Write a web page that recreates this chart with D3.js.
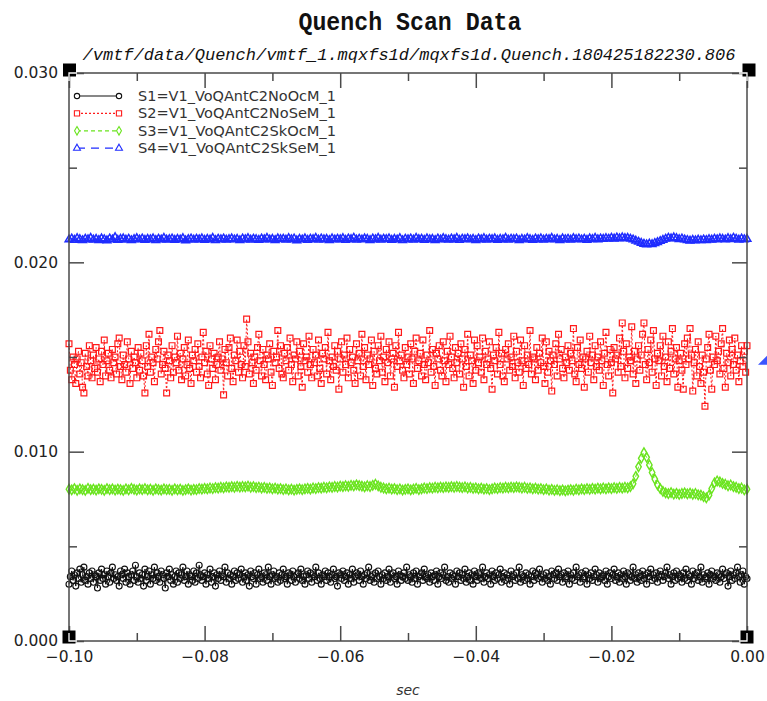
<!DOCTYPE html>
<html>
<head>
<meta charset="utf-8">
<script src="https://cdn.jsdelivr.net/npm/d3@7"></script>
<style>
  html, body { margin: 0; padding: 0; background: #fff; }
  svg { display: block; }
</style>
</head>
<body>
<svg id="chart" width="767" height="701"></svg>
<script>
// Scan window (seconds): each channel's samples are spread evenly across it
const tStart = -0.1;
const tEnd = 0.0;

const seriesNames = [
  "S1=V1_VoQAntC2NoOcM_1",
  "S2=V1_VoQAntC2NoSeM_1",
  "S3=V1_VoQAntC2SkOcM_1",
  "S4=V1_VoQAntC2SkSeM_1"
];

// Channel readings, in thousandths of a volt
const s1 = [
  3.0,3.4,3.7,3.2,3.5,2.9,3.6,3.3,3.8,3.1, 3.5,3.9,3.2,3.4,3.0,3.6,3.3,3.7,3.1,3.5,
  3.4,2.8,3.6,3.2,3.8,3.3,3.5,3.0,3.7,3.4, 3.1,3.6,3.9,3.3,3.5,3.2,3.4,2.9,3.7,3.5,
  3.3,3.8,3.1,3.6,3.4,3.0,3.5,3.7,3.2,4.0, 3.4,3.1,3.6,3.3,3.5,2.9,3.8,3.2,3.4,3.7,
  3.0,3.5,3.3,3.9,3.2,3.6,3.4,3.1,3.7,3.5, 3.3,2.8,3.6,3.4,3.8,3.2,3.5,3.0,3.4,3.7,
  3.1,3.6,3.3,3.5,3.9,3.2,3.4,3.7,3.0,3.5, 3.4,3.2,3.7,3.1,3.6,3.3,4.0,3.5,3.2,3.4,
  3.6,3.0,3.5,3.3,3.8,3.1,3.4,3.6,2.9,3.5, 3.3,3.7,3.2,3.5,3.4,3.9,3.1,3.6,3.3,3.5,
  3.0,3.4,3.7,3.2,3.6,3.3,3.5,3.8,3.1,3.4, 3.6,3.2,3.5,2.9,3.7,3.4,3.3,3.6,3.0,3.5,
  3.8,3.3,3.4,3.1,3.6,3.5,3.2,3.9,3.4,3.0, 3.5,3.7,3.3,3.4,3.1,3.6,3.2,3.5,3.8,3.3,
  3.4,3.0,3.6,3.5,3.2,3.7,3.4,3.1,3.5,3.6, 3.3,3.8,3.2,3.4,3.0,3.5,3.7,3.3,3.6,3.1,
  3.5,3.4,3.9,3.2,3.6,3.3,3.0,3.5,3.4,3.7, 3.2,3.6,3.4,3.1,3.5,3.8,3.3,3.4,2.9,3.6,
  3.5,3.3,3.7,3.2,3.4,3.6,3.0,3.5,3.3,3.8, 3.1,3.4,3.6,3.5,3.2,3.7,3.4,3.0,3.5,3.3,
  3.6,3.9,3.2,3.4,3.5,3.1,3.6,3.3,3.7,3.4, 3.0,3.5,3.3,3.6,3.2,3.4,3.8,3.1,3.5,3.6,
  3.3,3.4,3.0,3.7,3.5,3.2,3.4,3.6,3.3,3.9, 3.2,3.5,3.4,3.1,3.6,3.3,3.7,3.0,3.4,3.5,
  3.6,3.2,3.8,3.4,3.3,3.5,3.1,3.6,3.4,3.2, 3.5,3.7,3.0,3.4,3.6,3.3,3.5,3.9,3.2,3.4,
  3.1,3.6,3.3,3.5,3.4,3.0,3.7,3.4,3.6,3.2, 3.5,3.3,3.8,3.1,3.4,3.6,3.2,3.5,3.0,3.7,
  3.4,3.2,3.6,3.5,3.3,3.9,3.1,3.4,3.6,3.3, 3.5,3.0,3.7,3.4,3.2,3.6,3.3,3.5,3.8,3.1,
  3.4,3.6,3.2,3.5,3.3,3.0,3.7,3.4,3.5,3.2, 3.6,3.3,3.9,3.1,3.5,3.4,3.2,3.6,3.3,3.5,
  3.0,3.4,3.7,3.2,3.6,3.5,3.3,3.8,3.4,3.1, 3.5,3.3,3.6,3.2,3.4,3.0,3.7,3.5,3.3,3.6,
  3.2,3.8,3.4,3.5,3.1,3.6,3.3,3.4,3.7,3.0, 3.5,3.3,3.6,3.2,3.9,3.4,3.5,3.1,3.6,3.3,
  3.4,3.7,3.0,3.5,3.3,3.6,3.2,3.4,3.8,3.5, 3.1,3.6,3.3,3.4,3.5,3.2,3.7,3.0,3.4,3.6,
  3.3,3.5,3.8,3.2,3.4,3.6,3.1,3.5,3.3,3.7, 3.4,3.0,3.6,3.5,3.2,3.4,3.9,3.3,3.5,3.1,
  3.6,3.4,3.2,3.7,3.3,3.5,3.0,3.6,3.4,3.8, 3.2,3.5,3.3,3.6,3.1,3.4,3.7,3.5,3.2,3.4,
  3.6,3.9,3.3,3.5,3.0,3.4,3.6,3.2,3.7,3.3, 3.5,3.4,3.1,3.6,3.3,3.8,3.2,3.5,3.4,3.0,
  3.7,3.3,3.5,3.6,3.2,3.4,3.9,3.1,3.5,3.3, 3.4,3.6,3.0,3.5,3.7,3.3,3.4,3.2,3.6,3.5,
  3.1,3.4,3.8,3.3,3.5,3.6,2.9,3.4,3.7,3.2, 3.5,3.3,3.6,3.9,3.4,3.1,3.5,3.7,3.0,3.4,
  3.3
];

const s2 = [
  15.7,14.3,13.8,15.0,14.6,13.6,14.9,15.3,14.1,14.7, 13.4,13.1,15.2,14.5,14.0,15.6,14.8,13.9,15.1,14.4,
  15.5,14.2,14.9,13.7,15.3,14.6,15.9,14.0,14.8,15.2, 14.3,13.9,15.4,14.7,15.0,14.1,15.7,16.0,14.5,13.8,
  15.1,14.6,14.2,15.8,14.9,13.6,15.3,14.4,15.0,14.7, 13.9,15.5,14.3,15.2,14.8,14.0,13.1,15.6,14.5,16.2,
  14.2,15.0,14.7,13.7,15.4,14.9,15.8,16.4,14.1,14.6, 15.3,14.4,13.1,15.1,14.8,13.9,15.6,14.2,15.0,14.7,
  16.1,14.3,15.2,13.8,14.9,15.5,14.0,14.6,15.9,14.4, 13.6,15.1,14.8,15.4,14.2,15.7,14.5,13.9,15.0,16.3,
  14.7,15.3,14.1,13.5,15.6,14.9,14.4,15.2,13.8,14.6, 15.0,15.8,14.3,14.9,13.0,15.4,14.7,14.0,15.5,16.0,
  14.4,13.7,15.1,14.8,15.9,14.2,15.3,14.6,13.9,15.6, 14.5,17.0,15.8,14.1,15.2,14.7,13.6,15.0,14.3,15.5,
  16.2,14.8,14.0,15.4,14.6,13.8,15.1,14.9,15.7,14.2, 13.5,15.3,14.7,15.0,16.4,14.4,15.6,14.1,13.9,15.2,
  14.8,15.5,14.3,16.0,14.6,13.7,15.1,14.9,15.8,14.0, 15.3,14.5,13.4,15.7,14.8,15.0,14.2,16.1,14.6,13.9,
  15.4,14.7,15.1,14.0,15.9,14.4,13.6,15.2,14.9,15.5, 14.1,16.3,14.8,13.8,15.0,14.5,15.6,14.3,15.3,13.3,
  14.9,15.8,14.2,15.1,14.6,16.0,13.9,15.4,14.7,15.0, 14.3,13.6,15.7,14.8,15.2,14.0,16.2,14.5,15.5,13.8,
  15.1,14.6,14.9,15.9,13.5,15.3,14.4,14.1,15.6,14.8, 16.1,14.2,15.0,13.7,15.4,14.7,15.8,14.0,14.9,15.2,
  13.4,15.6,14.5,16.3,14.8,15.1,14.3,13.9,15.5,14.6, 15.0,14.1,15.7,14.9,13.6,15.3,16.0,14.4,14.8,15.2,
  14.0,15.9,14.6,13.8,15.1,14.7,16.4,14.2,15.4,14.5, 13.5,15.2,14.9,15.6,14.3,14.0,15.8,14.8,13.7,15.3,
  14.6,16.1,15.0,14.4,13.9,15.5,14.7,15.2,14.1,15.7, 14.9,13.4,15.4,14.5,16.2,14.0,15.1,14.8,13.6,15.9,
  14.3,15.6,14.7,15.0,14.2,16.0,13.8,15.3,14.6,14.9, 15.8,14.4,13.3,15.1,14.8,15.5,14.1,16.3,14.6,15.2,
  14.0,13.7,15.4,14.9,15.7,14.3,15.0,14.5,16.1,13.9, 15.3,14.7,14.2,15.9,14.8,13.5,15.6,14.4,15.1,14.6,
  16.4,14.1,15.0,14.9,13.8,15.5,14.3,15.2,14.7,16.0, 14.5,13.6,15.8,14.2,15.3,14.8,13.2,15.1,14.6,15.7,
  14.0,16.2,14.9,15.4,14.4,13.9,15.0,14.7,15.6,14.3, 15.2,14.8,16.5,14.1,13.7,15.5,14.6,15.9,14.4,15.0,
  13.4,14.9,15.3,14.2,16.1,14.7,15.1,13.8,15.6,14.5, 15.0,14.3,15.8,14.8,13.5,15.2,16.3,14.6,14.0,15.4,
  14.7,13.1,15.5,14.9,15.1,14.2,16.0,14.5,16.8,15.3, 13.9,15.7,14.4,15.0,14.8,16.6,14.1,15.3,13.6,14.9,
  15.6,14.3,15.1,16.2,16.8,14.6,13.8,15.4,14.7,15.9, 14.2,16.4,14.9,13.5,15.2,14.8,15.6,14.0,16.1,14.5,
  15.0,13.7,15.8,14.4,15.3,16.5,14.1,14.9,15.5,13.4, 14.8,15.2,14.3,13.3,15.7,14.6,16.0,14.9,16.5,15.1,
  13.2,14.7,15.4,14.0,15.8,14.5,13.6,15.1,14.2,12.4, 14.9,15.5,16.2,14.3,13.3,15.0,14.6,16.1,14.8,15.3,
  14.1,15.7,16.5,14.4,13.4,15.2,14.7,15.9,14.0,15.4, 14.6,16.0,14.3,15.1,13.7,14.8,15.6,14.5,15.3,14.2,
  15.6
];

const s3 = [
  8.02,7.98,8.05,7.96,8.03,8.00,7.95,8.06,7.99,8.02, 7.97,8.04,8.01,7.96,8.05,7.99,8.03,7.97,8.02,8.00,
  7.95,8.04,7.98,8.06,8.01,7.97,8.03,7.99,8.05,7.98, 8.02,7.96,8.04,8.00,7.97,8.03,7.99,8.01,7.96,8.04,
  7.98,8.02,7.95,8.00,8.04,7.97,8.01,7.99,8.05,8.02, 8.06,8.03,8.08,8.05,8.10,8.07,8.12,8.09,8.14,8.11,
  8.15,8.12,8.17,8.13,8.16,8.14,8.18,8.12,8.15,8.10, 8.13,8.08,8.11,8.06,8.09,8.04,8.07,8.02,8.05,8.00,
  8.03,7.98,8.02,7.97,8.01,8.04,7.99,8.03,8.06,8.02, 8.08,8.05,8.10,8.07,8.12,8.09,8.14,8.11,8.16,8.13,
  8.18,8.15,8.20,8.17,8.22,8.19,8.25,8.21,8.18,8.14, 8.20,8.16,8.22,8.28,8.19,8.12,8.08,8.04,8.07,8.02,
  8.05,7.99,8.03,7.97,8.01,8.04,7.98,8.02,8.06,8.00, 8.04,8.08,8.05,8.10,8.07,8.12,8.09,8.13,8.10,8.14,
  8.11,8.15,8.12,8.16,8.13,8.10,8.14,8.08,8.11,8.06, 8.09,8.04,8.07,8.02,8.05,8.00,8.04,8.08,8.05,8.10,
  8.07,8.12,8.09,8.13,8.10,8.14,8.11,8.08,8.12,8.06, 8.09,8.04,8.07,8.02,8.05,7.99,8.03,7.97,8.01,7.95,
  7.99,7.94,7.98,7.93,7.97,8.00,7.96,8.02,7.98,8.04, 8.00,8.05,8.01,8.06,8.02,8.07,8.03,8.08,8.04,8.09,
  8.05,8.10,8.06,8.11,8.07,8.12,8.09,8.15,8.30,8.70, 9.20,9.65,9.95,9.70,9.30,8.90,8.55,8.25,8.05,7.90,
  7.82,7.78,7.84,7.76,7.80,7.74,7.79,7.82,7.77,7.81, 7.75,7.79,7.72,7.70,7.62,7.56,7.70,8.05,8.35,8.45,
  8.40,8.32,8.28,8.20,8.24,8.15,8.12,8.05,8.08,7.98, 8.02
];

const s4 = [
  21.20,21.25,21.18,21.27,21.22,21.16,21.24,21.21,21.28,21.19, 21.23,21.17,21.26,21.21,21.15,21.25,21.20,21.32,21.18,21.23,
  21.26,21.19,21.24,21.16,21.22,21.27,21.20,21.25,21.18,21.23, 21.21,21.26,21.17,21.24,21.20,21.28,21.19,21.22,21.25,21.18,
  21.23,21.20,21.27,21.15,21.22,21.25,21.19,21.24,21.21,21.26, 21.18,21.23,21.20,21.28,21.17,21.24,21.21,21.25,21.19,21.22,
  21.26,21.20,21.23,21.16,21.25,21.21,21.27,21.19,21.24,21.22, 21.18,21.25,21.21,21.28,21.20,21.23,21.17,21.26,21.22,21.24,
  21.19,21.27,21.21,21.25,21.15,21.23,21.20,21.26,21.18,21.24, 21.22,21.28,21.19,21.25,21.21,21.23,21.17,21.26,21.20,21.24,
  21.21,21.27,21.18,21.25,21.22,21.29,21.19,21.24,21.20,21.26, 21.23,21.17,21.25,21.21,21.28,21.19,21.24,21.22,21.26,21.18,
  21.23,21.20,21.27,21.16,21.24,21.21,21.25,21.19,21.28,21.22, 21.24,21.18,21.26,21.21,21.23,21.17,21.25,21.20,21.27,21.22,
  21.19,21.25,21.21,21.28,21.18,21.24,21.22,21.26,21.20,21.23, 21.17,21.25,21.21,21.27,21.19,21.24,21.22,21.26,21.18,21.23,
  21.21,21.28,21.19,21.24,21.22,21.25,21.17,21.23,21.20,21.27, 21.22,21.18,21.25,21.21,21.26,21.19,21.24,21.22,21.28,21.20,
  21.23,21.17,21.26,21.21,21.24,21.19,21.27,21.22,21.25,21.20, 21.24,21.18,21.26,21.22,21.28,21.21,21.25,21.23,21.27,21.24,
  21.29,21.25,21.30,21.26,21.31,21.27,21.28,21.24,21.20,21.14, 21.08,21.02,20.97,20.94,20.98,20.95,21.01,21.06,21.12,21.18,
  21.24,21.29,21.26,21.31,21.27,21.22,21.25,21.20,21.17,21.14, 21.18,21.15,21.19,21.16,21.20,21.17,21.22,21.19,21.24,21.21,
  21.26,21.23,21.20,21.27,21.22,21.29,21.24,21.19,21.25,21.21, 21.23
];

const xTicksMajor = [-0.10, -0.08, -0.06, -0.04, -0.02, 0.00];
const xTicksMinor = [-0.09, -0.07, -0.05, -0.03, -0.01];
const yTicksMajor = [0.000, 0.010, 0.020, 0.030];
const yTicksMinor = [0.005, 0.015, 0.025];

const titleText = "Quench Scan Data";
const subtitleText = "/vmtf/data/Quench/vmtf_1.mqxfs1d/mqxfs1d.Quench.180425182230.806";
const xLabel = "sec";

// ---------------------------------------------------------------------------
const W = 767, H = 701;
const margin = { top: 73, right: 20, bottom: 60, left: 69 };
const plotW = W - margin.left - margin.right;
const plotH = H - margin.top - margin.bottom;

const svg = d3.select("#chart");
svg.append("rect").attr("width", W).attr("height", H).attr("fill", "#fff");

const x = d3.scaleLinear().domain([-0.1, 0]).range([margin.left, margin.left + plotW]);
const y = d3.scaleLinear().domain([0, 0.03]).range([margin.top + plotH, margin.top]);

const series = [
  { name: seriesNames[0], values: s1, color: "#111111", dash: null,  symbol: d3.symbolCircle,   size: 28, sw: 1.15 },
  { name: seriesNames[1], values: s2, color: "#ff1a1a", dash: "2,2", symbol: d3.symbolSquare,   size: 34, sw: 1.2 },
  { name: seriesNames[2], values: s3, color: "#6ae41e", dash: "4,3", symbol: d3.symbolDiamond,  size: 26, sw: 1.4 },
  { name: seriesNames[3], values: s4, color: "#1f2cff", dash: "8,6", symbol: d3.symbolTriangle, size: 26, sw: 1.5 }
];

// sample time of the i-th of n readings in the scan window
const tOf = (i, n) => tStart + i * (tEnd - tStart) / (n - 1);

// Traces
const traces = svg.append("g").attr("class", "traces");
series.forEach(s => {
  const n = s.values.length;
  const line = d3.line().x((d, i) => x(tOf(i, n))).y(d => y(d / 1000));
  const g = traces.append("g");
  g.append("path")
    .attr("d", line(s.values))
    .attr("fill", "none")
    .attr("stroke", s.color)
    .attr("stroke-width", 1)
    .attr("stroke-dasharray", s.dash);
  const sym = d3.symbol().type(s.symbol).size(s.size);
  g.selectAll("path.pt")
    .data(s.values)
    .join("path")
    .attr("class", "pt")
    .attr("d", sym)
    .attr("transform", (d, i) => `translate(${x(tOf(i, n))},${y(d / 1000)})`)
    .attr("fill", "none")
    .attr("stroke", s.color)
    .attr("stroke-width", s.sw);
});

// Frame and inward ticks on all four sides
const axisColor = "#4a4a4a";
const majorLen = 15, minorLen = 8;
const fmtX = d3.format(".2f");
const fmtY = d3.format(".3f");

function styleAxis(g) {
  g.select(".domain").remove();
  g.selectAll(".tick line").attr("stroke", axisColor).attr("stroke-width", 1.5);
  g.selectAll("text")
    .attr("fill", "#222")
    .style("font-family", "'DejaVu Sans', sans-serif")
    .style("font-size", "15.5px");
}

const bottom = margin.top + plotH, right = margin.left + plotW;

svg.append("g").attr("transform", `translate(0,${bottom})`)
  .call(d3.axisBottom(x).tickValues(xTicksMajor).tickSizeInner(-majorLen).tickSizeOuter(0).tickPadding(10).tickFormat(fmtX))
  .call(styleAxis);
svg.append("g").attr("transform", `translate(0,${bottom})`)
  .call(d3.axisBottom(x).tickValues(xTicksMinor).tickSizeInner(-minorLen).tickSizeOuter(0).tickFormat(""))
  .call(styleAxis);
svg.append("g").attr("transform", `translate(0,${margin.top})`)
  .call(d3.axisTop(x).tickValues(xTicksMajor).tickSizeInner(-majorLen).tickSizeOuter(0).tickFormat(""))
  .call(styleAxis);
svg.append("g").attr("transform", `translate(0,${margin.top})`)
  .call(d3.axisTop(x).tickValues(xTicksMinor).tickSizeInner(-minorLen).tickSizeOuter(0).tickFormat(""))
  .call(styleAxis);
svg.append("g").attr("transform", `translate(${margin.left},0)`)
  .call(d3.axisLeft(y).tickValues(yTicksMajor).tickSizeInner(-majorLen).tickSizeOuter(0).tickPadding(11).tickFormat(fmtY))
  .call(styleAxis);
svg.append("g").attr("transform", `translate(${margin.left},0)`)
  .call(d3.axisLeft(y).tickValues(yTicksMinor).tickSizeInner(-minorLen).tickSizeOuter(0).tickFormat(""))
  .call(styleAxis);
svg.append("g").attr("transform", `translate(${right},0)`)
  .call(d3.axisRight(y).tickValues(yTicksMajor).tickSizeInner(-majorLen).tickSizeOuter(0).tickFormat(""))
  .call(styleAxis);
svg.append("g").attr("transform", `translate(${right},0)`)
  .call(d3.axisRight(y).tickValues(yTicksMinor).tickSizeInner(-minorLen).tickSizeOuter(0).tickFormat(""))
  .call(styleAxis);

svg.append("rect")
  .attr("x", margin.left).attr("y", margin.top)
  .attr("width", plotW).attr("height", plotH)
  .attr("fill", "none").attr("stroke", axisColor).attr("stroke-width", 1.5);

// Black corner blocks with the frame corner showing through in white
const corners = [
  { cx: margin.left, cy: margin.top, dx: 1, dy: 1, ox: 0.5, oy: -3 },
  { cx: right,       cy: margin.top, dx: -1, dy: 1, ox: 2,  oy: -3 },
  { cx: margin.left, cy: bottom,     dx: 1, dy: -1, ox: 0,  oy: -4 },
  { cx: right,       cy: bottom,     dx: -1, dy: -1, ox: 0, oy: -4 }
];
corners.forEach(c => {
  svg.append("rect")
    .attr("x", c.cx + c.ox - 6.5).attr("y", c.cy + c.oy - 6.5)
    .attr("width", 13).attr("height", 13)
    .attr("fill", "#000");
  svg.append("path")
    .attr("d", `M${c.cx},${c.cy + c.dy * 8}V${c.cy}H${c.cx + c.dx * 8}`)
    .attr("fill", "none").attr("stroke", "#fff").attr("stroke-width", 1.3);
});

// Titles
svg.append("text")
  .attr("x", 410).attr("y", 30)
  .attr("text-anchor", "middle")
  .attr("textLength", 223).attr("lengthAdjust", "spacingAndGlyphs")
  .style("font-family", "'Liberation Mono', monospace")
  .style("font-size", "25px").style("font-weight", "bold")
  .attr("fill", "#111")
  .text(titleText);

svg.append("text")
  .attr("x", 409).attr("y", 60)
  .attr("text-anchor", "middle")
  .style("font-family", "'Liberation Mono', monospace")
  .style("font-size", "17px").style("font-style", "italic")
  .attr("fill", "#111")
  .text(subtitleText);

svg.append("text")
  .attr("x", x(-0.05)).attr("y", 695)
  .attr("text-anchor", "middle")
  .style("font-family", "'DejaVu Sans', sans-serif")
  .style("font-size", "14px").style("font-style", "italic")
  .attr("fill", "#333")
  .text(xLabel);

// Legend
const legend = svg.append("g").attr("transform", "translate(75,96)");
const rowH = 17.4;
series.forEach((s, k) => {
  const g = legend.append("g").attr("transform", `translate(0,${k * rowH})`);
  g.append("line")
    .attr("x1", 2).attr("x2", 44).attr("y1", 0).attr("y2", 0)
    .attr("stroke", s.color).attr("stroke-width", 1.2)
    .attr("stroke-dasharray", s.dash);
  const sym = d3.symbol().type(s.symbol).size(s.size * 0.8);
  [2, 44].forEach(px => {
    g.append("path").attr("d", sym)
      .attr("transform", `translate(${px},0)`)
      .attr("fill", "#fff").attr("stroke", s.color).attr("stroke-width", 1.1);
  });
  g.append("text")
    .attr("x", 63).attr("y", 0).attr("dy", "0.36em")
    .attr("textLength", 198).attr("lengthAdjust", "spacingAndGlyphs")
    .style("font-family", "'DejaVu Sans', sans-serif")
    .style("font-size", "14px")
    .attr("fill", "#333")
    .text(s.name);
});

// Small blue mark clipped at the right edge of the page
svg.append("path")
  .attr("d", `M${W - 9},${y(0.0148) + 4}L${W},${y(0.0148) - 5}V${y(0.0148) + 4}Z`)
  .attr("fill", "#3a55ff");
</script>
</body>
</html>
